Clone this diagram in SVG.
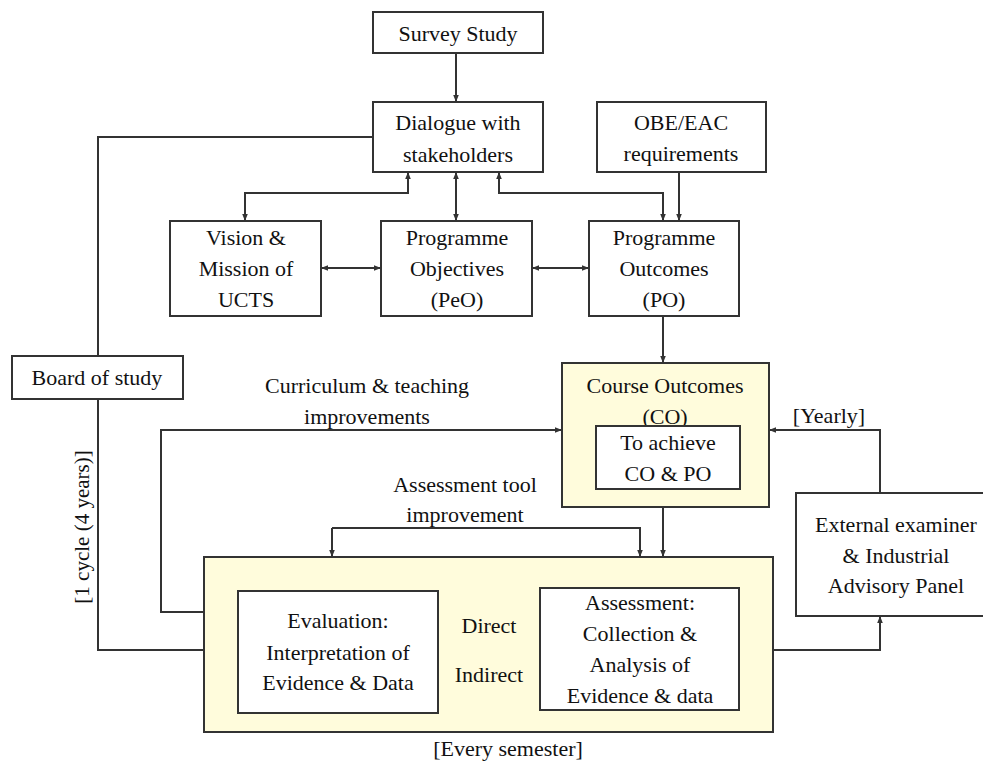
<svg xmlns="http://www.w3.org/2000/svg" width="983" height="763" viewBox="0 0 983 763">
<defs>
<style>
.box{fill:#fff;stroke:#333;stroke-width:2}
.ybox{fill:#fffcdc;stroke:#333;stroke-width:2}
.t{font-family:"Liberation Serif","Times New Roman",serif;font-size:22px;fill:#111;text-anchor:middle}
.c{fill:none;stroke:#333;stroke-width:2}
.a{marker-end:url(#ah)}
.b{marker-start:url(#ahs);marker-end:url(#ah)}
</style>
<marker id="ah" viewBox="0 0 10 10" refX="10" refY="5" markerWidth="3.5" markerHeight="3.5" orient="auto" markerUnits="strokeWidth"><path d="M0,1 L10,5 L0,9 z" fill="#333"/></marker>
<marker id="ahs" viewBox="0 0 10 10" refX="0" refY="5" markerWidth="3.5" markerHeight="3.5" orient="auto" markerUnits="strokeWidth"><path d="M10,1 L0,5 L10,9 z" fill="#333"/></marker>
</defs>
<rect width="983" height="763" fill="#fff"/>

<g id="connectors">
<path class="c a" d="M456,53 V102"/>
<path class="c" d="M373,137 H98 V356"/>
<path class="c" d="M98,399 V650 H204"/>
<path class="c b" d="M408,172 V193 H245 V221"/>
<path class="c b" d="M456,172 V221"/>
<path class="c b" d="M499,172 V193 H663 V221"/>
<path class="c a" d="M679,172 V221"/>
<path class="c b" d="M321,268 H381"/>
<path class="c b" d="M532,268 H589"/>
<path class="c a" d="M663,316 V363"/>
<path class="c a" d="M204,612 H161 V430 H562"/>
<path class="c a" d="M332,528 V557"/>
<path class="c a" d="M332,528 H640 V557"/>
<path class="c a" d="M663,507 V557"/>
<path class="c a" d="M540,650 H438"/>
<path class="c a" d="M880,493 V430 H769"/>
<path class="c a" d="M773,650 H880 V616"/>
</g>

<g id="survey"><rect class="box" x="373" y="12" width="170" height="41"/><text class="t" x="458" y="41">Survey Study</text></g>
<g id="dialogue"><rect class="box" x="373" y="102" width="170" height="70"/><text class="t" x="458" y="130">Dialogue with</text><text class="t" x="458" y="162">stakeholders</text></g>
<g id="obe"><rect class="box" x="597" y="102" width="169" height="70"/><text class="t" x="681" y="130">OBE/EAC</text><text class="t" x="681" y="161">requirements</text></g>
<g id="vision"><rect class="box" x="170" y="221" width="151" height="95"/><text class="t" x="246" y="245">Vision &amp;</text><text class="t" x="246" y="276">Mission of</text><text class="t" x="246" y="307">UCTS</text></g>
<g id="peo"><rect class="box" x="381" y="221" width="151" height="95"/><text class="t" x="457" y="245">Programme</text><text class="t" x="457" y="276">Objectives</text><text class="t" x="457" y="307">(PeO)</text></g>
<g id="po"><rect class="box" x="589" y="221" width="150" height="95"/><text class="t" x="664" y="245">Programme</text><text class="t" x="664" y="276">Outcomes</text><text class="t" x="664" y="307">(PO)</text></g>
<g id="board"><rect class="box" x="12" y="356" width="171" height="43"/><text class="t" x="97" y="385">Board of study</text></g>
<g id="co"><rect class="ybox" x="562" y="363" width="207" height="144"/><text class="t" x="665" y="393">Course Outcomes</text><text class="t" x="665" y="424">(CO)</text>
<rect class="box" x="596" y="426" width="144" height="63"/><text class="t" x="668" y="450">To achieve</text><text class="t" x="668" y="481">CO &amp; PO</text></g>
<g id="external"><rect class="box" x="796" y="493" width="195" height="123"/><text class="t" x="896" y="532">External examiner</text><text class="t" x="896" y="563">&amp; Industrial</text><text class="t" x="896" y="593">Advisory Panel</text></g>
<g id="cycle"><rect class="ybox" x="204" y="557" width="569" height="175"/>
<rect class="box" x="238" y="591" width="200" height="122"/><text class="t" x="338" y="628">Evaluation:</text><text class="t" x="338" y="660">Interpretation of</text><text class="t" x="338" y="690">Evidence &amp; Data</text>
<rect class="box" x="540" y="588" width="199" height="122"/><text class="t" x="640" y="610">Assessment:</text><text class="t" x="640" y="641">Collection &amp;</text><text class="t" x="640" y="672">Analysis of</text><text class="t" x="640" y="703">Evidence &amp; data</text></g>

<g id="labels">
<text class="t" x="367" y="393">Curriculum &amp; teaching</text>
<text class="t" x="367" y="424">improvements</text>
<text class="t" x="465" y="492">Assessment tool</text>
<text class="t" x="465" y="522">improvement</text>
<text class="t" x="829" y="423">[Yearly]</text>
<text class="t" x="489" y="633">Direct</text>
<text class="t" x="489" y="682">Indirect</text>
<text class="t" x="508" y="756">[Every semester]</text>
<text class="t" style="font-size:21px" transform="translate(89,527) rotate(-90)">[1 cycle (4 years)]</text>
</g>
</svg>
